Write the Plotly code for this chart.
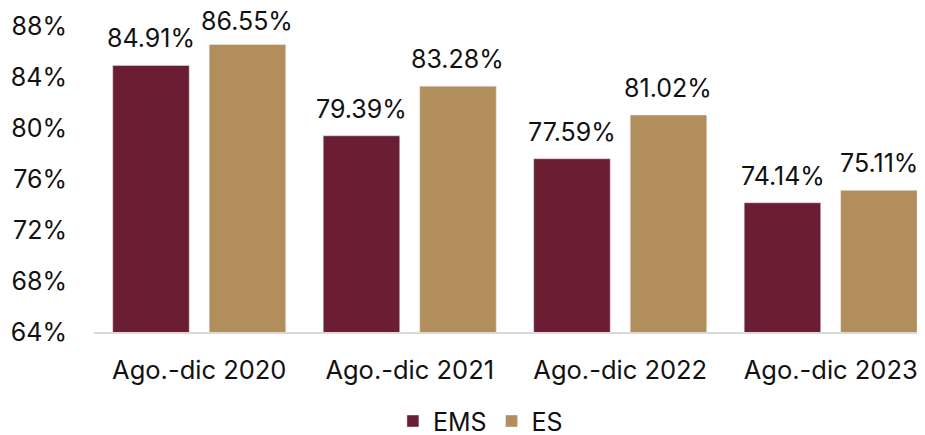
import plotly.graph_objects as go

categories = ["Ago.-dic 2020", "Ago.-dic 2021", "Ago.-dic 2022", "Ago.-dic 2023"]
ems = [84.91, 79.39, 77.59, 74.14]
es = [86.55, 83.28, 81.02, 75.11]
yticks = [64, 68, 72, 76, 80, 84, 88]

FONT = "Inter"
SIZE = 25
COL_EMS = "#6B1D33"
COL_ES = "#B38E5D"

fig = go.Figure()
fig.add_trace(go.Bar(name="EMS", x=categories, y=ems, marker_color=COL_EMS))
fig.add_trace(go.Bar(name="ES", x=categories, y=es, marker_color=COL_ES))

# value labels above each bar (labels close to the top edge are kept inside the figure)
for vals, shift in ((ems, -48), (es, 48)):
    for c, v in zip(categories, vals):
        fig.add_annotation(x=c, y=v, xref="x", yref="y", text=f"{v:.2f}%",
                           showarrow=False, xshift=shift, yshift=10 if v < 86 else 6,
                           yanchor="bottom",
                           font=dict(size=SIZE, color="#111111", family=FONT))

fig.update_layout(
    width=925, height=435,
    margin=dict(l=86, r=8, t=18, b=111, autoexpand=False),
    paper_bgcolor="white", plot_bgcolor="white",
    barmode="group", bargap=0.083, bargroupgap=0.207,
    font=dict(family=FONT, size=SIZE, color="#111111"),
    showlegend=True,
    legend=dict(orientation="h", x=0.465, xanchor="center",
                yref="container", y=0.05, yanchor="middle",
                font=dict(size=SIZE), itemwidth=30, traceorder="normal"),
)
fig.update_xaxes(range=[-0.5, 3.448], showline=True, linecolor="#D9D9D9", linewidth=2,
                 ticks="", tickfont=dict(size=25.5), ticklabelstandoff=14, automargin=False)
fig.update_yaxes(range=[64, 88], tickvals=yticks, ticktext=[f"{v}%" for v in yticks],
                 showgrid=False, zeroline=False, showline=False,
                 tickfont=dict(size=SIZE), ticklabelstandoff=26, automargin=False)

fig.write_html("out.html")
